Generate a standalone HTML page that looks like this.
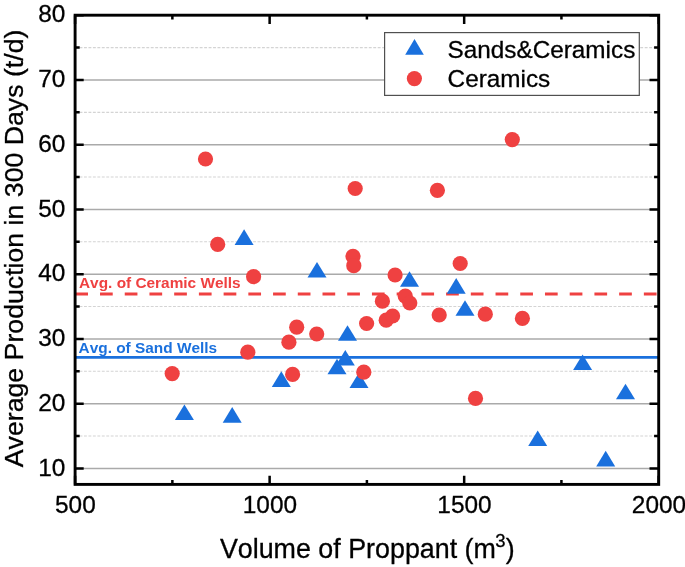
<!DOCTYPE html><html><head><meta charset="utf-8"><style>html,body{margin:0;padding:0;background:#fff;overflow:hidden;}svg{display:block;will-change:transform;}text{font-family:"Liberation Sans",sans-serif;font-kerning:none;}.k{stroke:#000;stroke-width:0.3px;}</style></head><body>
<svg width="685" height="567" viewBox="0 0 685 567">
<rect width="685" height="567" fill="#fff"/>
<line x1="75.1" y1="436.07" x2="658.7" y2="436.07" stroke="#d4d4d4" stroke-width="1.1" stroke-dasharray="2.9 1.55"/>
<line x1="75.1" y1="371.32" x2="658.7" y2="371.32" stroke="#d4d4d4" stroke-width="1.1" stroke-dasharray="2.9 1.55"/>
<line x1="75.1" y1="306.57" x2="658.7" y2="306.57" stroke="#d4d4d4" stroke-width="1.1" stroke-dasharray="2.9 1.55"/>
<line x1="75.1" y1="241.82" x2="658.7" y2="241.82" stroke="#d4d4d4" stroke-width="1.1" stroke-dasharray="2.9 1.55"/>
<line x1="75.1" y1="177.07" x2="658.7" y2="177.07" stroke="#d4d4d4" stroke-width="1.1" stroke-dasharray="2.9 1.55"/>
<line x1="75.1" y1="112.33" x2="658.7" y2="112.33" stroke="#d4d4d4" stroke-width="1.1" stroke-dasharray="2.9 1.55"/>
<line x1="75.1" y1="47.58" x2="658.7" y2="47.58" stroke="#d4d4d4" stroke-width="1.1" stroke-dasharray="2.9 1.55"/>
<line x1="75.1" y1="468.45" x2="658.7" y2="468.45" stroke="#aaaaaa" stroke-width="1.5"/>
<line x1="75.1" y1="403.70" x2="658.7" y2="403.70" stroke="#aaaaaa" stroke-width="1.5"/>
<line x1="75.1" y1="338.95" x2="658.7" y2="338.95" stroke="#aaaaaa" stroke-width="1.5"/>
<line x1="75.1" y1="274.20" x2="658.7" y2="274.20" stroke="#aaaaaa" stroke-width="1.5"/>
<line x1="75.1" y1="209.45" x2="658.7" y2="209.45" stroke="#aaaaaa" stroke-width="1.5"/>
<line x1="75.1" y1="144.70" x2="658.7" y2="144.70" stroke="#aaaaaa" stroke-width="1.5"/>
<line x1="75.1" y1="79.95" x2="658.7" y2="79.95" stroke="#aaaaaa" stroke-width="1.5"/>
<line x1="75.3" y1="293.9" x2="658.7" y2="293.9" stroke="#EF4141" stroke-width="3" stroke-dasharray="12.7 12.02"/>
<line x1="75.1" y1="357.3" x2="658.7" y2="357.3" stroke="#1A70DD" stroke-width="2.7"/>
<text x="79" y="288.3" font-size="15.4" font-weight="bold" fill="#EF4141">Avg. of Ceramic Wells</text>
<text x="78.6" y="352.5" font-size="15.4" font-weight="bold" fill="#1A70DD">Avg. of Sand Wells</text>
<path d="M184.40 404.50L193.90 420.10L174.90 420.10Z" fill="#1A70DD"/>
<path d="M232.20 407.10L241.70 422.70L222.70 422.70Z" fill="#1A70DD"/>
<path d="M244.10 229.30L253.60 244.90L234.60 244.90Z" fill="#1A70DD"/>
<path d="M281.30 371.30L290.80 386.90L271.80 386.90Z" fill="#1A70DD"/>
<path d="M317.00 262.00L326.50 277.60L307.50 277.60Z" fill="#1A70DD"/>
<path d="M347.50 325.20L357.00 340.80L338.00 340.80Z" fill="#1A70DD"/>
<path d="M345.30 349.90L354.80 365.50L335.80 365.50Z" fill="#1A70DD"/>
<path d="M337.00 358.70L346.50 374.30L327.50 374.30Z" fill="#1A70DD"/>
<path d="M359.00 372.50L368.50 388.10L349.50 388.10Z" fill="#1A70DD"/>
<path d="M409.50 271.20L419.00 286.80L400.00 286.80Z" fill="#1A70DD"/>
<path d="M456.20 278.10L465.70 293.70L446.70 293.70Z" fill="#1A70DD"/>
<path d="M465.00 300.20L474.50 315.80L455.50 315.80Z" fill="#1A70DD"/>
<path d="M582.60 354.50L592.10 370.10L573.10 370.10Z" fill="#1A70DD"/>
<path d="M625.50 383.70L635.00 399.30L616.00 399.30Z" fill="#1A70DD"/>
<path d="M537.70 430.40L547.20 446.00L528.20 446.00Z" fill="#1A70DD"/>
<path d="M605.70 450.80L615.20 466.40L596.20 466.40Z" fill="#1A70DD"/>
<circle cx="205.5" cy="159" r="7.6" fill="#EF4141"/>
<circle cx="217.7" cy="244.4" r="7.6" fill="#EF4141"/>
<circle cx="253.6" cy="276.7" r="7.6" fill="#EF4141"/>
<circle cx="172.2" cy="373.6" r="7.6" fill="#EF4141"/>
<circle cx="247.8" cy="352.2" r="7.6" fill="#EF4141"/>
<circle cx="296.7" cy="327.2" r="7.6" fill="#EF4141"/>
<circle cx="288.9" cy="342.2" r="7.6" fill="#EF4141"/>
<circle cx="316.7" cy="334" r="7.6" fill="#EF4141"/>
<circle cx="292.6" cy="374.4" r="7.6" fill="#EF4141"/>
<circle cx="366.6" cy="323.5" r="7.6" fill="#EF4141"/>
<circle cx="363.8" cy="372.2" r="7.6" fill="#EF4141"/>
<circle cx="355.2" cy="188.5" r="7.6" fill="#EF4141"/>
<circle cx="353" cy="256.4" r="7.6" fill="#EF4141"/>
<circle cx="353.8" cy="265.7" r="7.6" fill="#EF4141"/>
<circle cx="395.1" cy="275" r="7.6" fill="#EF4141"/>
<circle cx="382.4" cy="301.2" r="7.6" fill="#EF4141"/>
<circle cx="405.3" cy="296.2" r="7.6" fill="#EF4141"/>
<circle cx="409.8" cy="303" r="7.6" fill="#EF4141"/>
<circle cx="386.2" cy="320.2" r="7.6" fill="#EF4141"/>
<circle cx="392.6" cy="316" r="7.6" fill="#EF4141"/>
<circle cx="512.3" cy="139.6" r="7.6" fill="#EF4141"/>
<circle cx="437.4" cy="190.3" r="7.6" fill="#EF4141"/>
<circle cx="460.2" cy="263.5" r="7.6" fill="#EF4141"/>
<circle cx="439.2" cy="315" r="7.6" fill="#EF4141"/>
<circle cx="485.3" cy="314.2" r="7.6" fill="#EF4141"/>
<circle cx="522.4" cy="318.4" r="7.6" fill="#EF4141"/>
<circle cx="475.5" cy="398.4" r="7.6" fill="#EF4141"/>
<rect x="384.6" y="32.6" width="254.7" height="62.8" fill="#fff" stroke="#505050" stroke-width="1.2"/>
<path d="M414.5 38.9L423.8 54.8L405.2 54.8Z" fill="#1A70DD"/>
<circle cx="414.4" cy="78.6" r="7.6" fill="#EF4141"/>
<text x="447.6" y="58" font-size="24.3" fill="#000" class="k">Sands&amp;Ceramics</text>
<text x="447.6" y="86.6" font-size="24.3" fill="#000" class="k">Ceramics</text>
<path d="M75.1 468.45H83.69999999999999M658.7 468.45H649.5M75.1 403.70H83.69999999999999M658.7 403.70H649.5M75.1 338.95H83.69999999999999M658.7 338.95H649.5M75.1 274.20H83.69999999999999M658.7 274.20H649.5M75.1 209.45H83.69999999999999M658.7 209.45H649.5M75.1 144.70H83.69999999999999M658.7 144.70H649.5M75.1 79.95H83.69999999999999M658.7 79.95H649.5M75.1 15.20H83.69999999999999M658.7 15.20H649.5M75.1 436.07H79.69999999999999M658.7 436.07H654.1M75.1 371.32H79.69999999999999M658.7 371.32H654.1M75.1 306.57H79.69999999999999M658.7 306.57H654.1M75.1 241.82H79.69999999999999M658.7 241.82H654.1M75.1 177.07H79.69999999999999M658.7 177.07H654.1M75.1 112.33H79.69999999999999M658.7 112.33H654.1M75.1 47.58H79.69999999999999M658.7 47.58H654.1M75.10 484.4V475.7M75.10 15.2V24.0M269.63 484.4V475.7M269.63 15.2V24.0M464.17 484.4V475.7M464.17 15.2V24.0M658.70 484.4V475.7M658.70 15.2V24.0M172.37 484.4V480.09999999999997M172.37 15.2V19.6M366.90 484.4V480.09999999999997M366.90 15.2V19.6M561.43 484.4V480.09999999999997M561.43 15.2V19.6" stroke="#000" stroke-width="2.5" fill="none"/>
<rect x="75.1" y="15.2" width="583.60" height="469.20" fill="none" stroke="#000" stroke-width="2.9"/>
<text x="65.3" y="475.55" font-size="24.4" text-anchor="end" fill="#000" class="k">10</text>
<text x="65.3" y="410.80" font-size="24.4" text-anchor="end" fill="#000" class="k">20</text>
<text x="65.3" y="346.05" font-size="24.4" text-anchor="end" fill="#000" class="k">30</text>
<text x="65.3" y="281.30" font-size="24.4" text-anchor="end" fill="#000" class="k">40</text>
<text x="65.3" y="216.55" font-size="24.4" text-anchor="end" fill="#000" class="k">50</text>
<text x="65.3" y="151.80" font-size="24.4" text-anchor="end" fill="#000" class="k">60</text>
<text x="65.3" y="87.05" font-size="24.4" text-anchor="end" fill="#000" class="k">70</text>
<text x="65.3" y="22.30" font-size="24.4" text-anchor="end" fill="#000" class="k">80</text>
<text x="75.40" y="513.2" font-size="24.4" text-anchor="middle" fill="#000" class="k">500</text>
<text x="269.93" y="513.2" font-size="24.4" text-anchor="middle" fill="#000" class="k">1000</text>
<text x="464.47" y="513.2" font-size="24.4" text-anchor="middle" fill="#000" class="k">1500</text>
<text x="659.00" y="513.2" font-size="24.4" text-anchor="middle" fill="#000" class="k">2000</text>
<text x="219.9" y="557.9" font-size="26.85" fill="#000" class="k">Volume of Proppant (m<tspan font-size="18.5" dx="-0.6" dy="-10.9">3</tspan><tspan dx="0.2" dy="10.9">)</tspan></text>
<text transform="translate(22.7 467.2) rotate(-90)" x="0" y="0" font-size="26.7" fill="#000" class="k">Average Production in 300 Days (t/d)</text>
</svg></body></html>
